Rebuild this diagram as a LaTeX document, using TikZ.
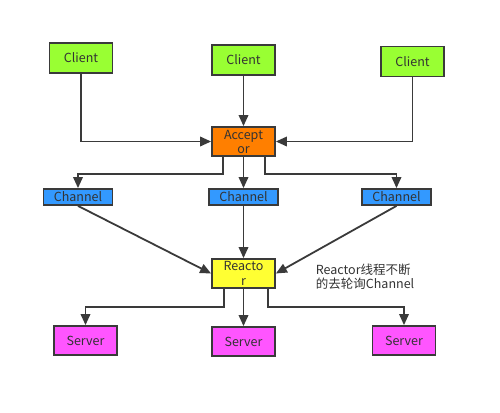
\documentclass[tikz,border=0pt]{standalone}
\usepackage{fontspec}
\setmainfont{Noto Sans CJK SC}
\usetikzlibrary{positioning,arrows.meta}
\definecolor{linegray}{HTML}{3A3A3A}
\definecolor{textgray}{HTML}{333333}
\definecolor{clientgreen}{HTML}{99FF33}
\definecolor{acceptorange}{HTML}{FF7F00}
\definecolor{channelblue}{HTML}{3399FF}
\definecolor{reactoryellow}{HTML}{FFFF33}
\definecolor{servermagenta}{HTML}{FF55FF}

\begin{document}
\begin{tikzpicture}[%
      x=1pt, y=-1pt,
      every node/.style={rectangle, draw=linegray, line width=1.8pt, text=textgray, inner sep=0pt,
                         font=\fontsize{12.5}{14}\selectfont},
      client/.style={fill=clientgreen, minimum width=63pt, minimum height=30pt},
      acceptor/.style={fill=acceptorange, minimum width=63pt, minimum height=29pt, align=center},
      channel/.style={fill=channelblue, minimum width=69pt, minimum height=16pt},
      reactor/.style={fill=reactoryellow, minimum width=63pt, minimum height=29pt, align=center,
                      font=\fontsize{12.5}{15}\selectfont},
      server/.style={fill=servermagenta, minimum width=63pt, minimum height=29pt},
      note/.style={draw=none, align=left},
      elbow/.style={to path={|- (\tikztotarget)}},
      fork/.style={to path={-- ++(0,#1) -| (\tikztotarget)}},
      line width=1.8pt, draw=linegray,
      >={Triangle[length=11pt,width=9.5pt]}
    ]
    \useasboundingbox (0,0) rectangle (500,412);

    \node [client] (c1) at (81,58) {Client};
    \node [client] (c2) at (243.5,60) {Client};
    \node [client] (c3) at (412.5,61.5) {Client};
    \node [acceptor] (a) at (243.5,141.5) {Accept\\or};
    \node [channel] (h1) at (78,197) {Channel};
    \node [channel] (h2) at (243.5,197) {Channel};
    \node [channel] (h3) at (396.5,197) {Channel};
    \node [reactor] (r) at (243.5,273.5) {Reacto\\r};
    \node [note, anchor=west] (n) at (315,277) {Reactor线程不断\\的去轮询Channel};
    \node [server] (s1) at (85.5,340.5) {Server};
    \node [server] (s2) at (243.5,341.5) {Server};
    \node [server] (s3) at (404,340.5) {Server};

    \path [draw=linegray]
    (c1) edge[->, elbow] (a)
    (c2) edge[->] (a)
    (c3) edge[->, elbow] (a)
    ([xshift=12pt]a.south west) edge[->, fork=17] (h1)
    (a) edge[->] (h2)
    ([xshift=-11pt]a.south east) edge[->, fork=17] (h3)
    (h1.south) edge[->] (r.west)
    (h2) edge[->] (r)
    (h3.south) edge[->] (r.east)
    ([xshift=13pt]r.south west) edge[->, fork=18] (s1)
    (r) edge[->] (s2)
    ([xshift=-8pt]r.south east) edge[->, fork=18] (s3)
    ;
\end{tikzpicture}
\end{document}
